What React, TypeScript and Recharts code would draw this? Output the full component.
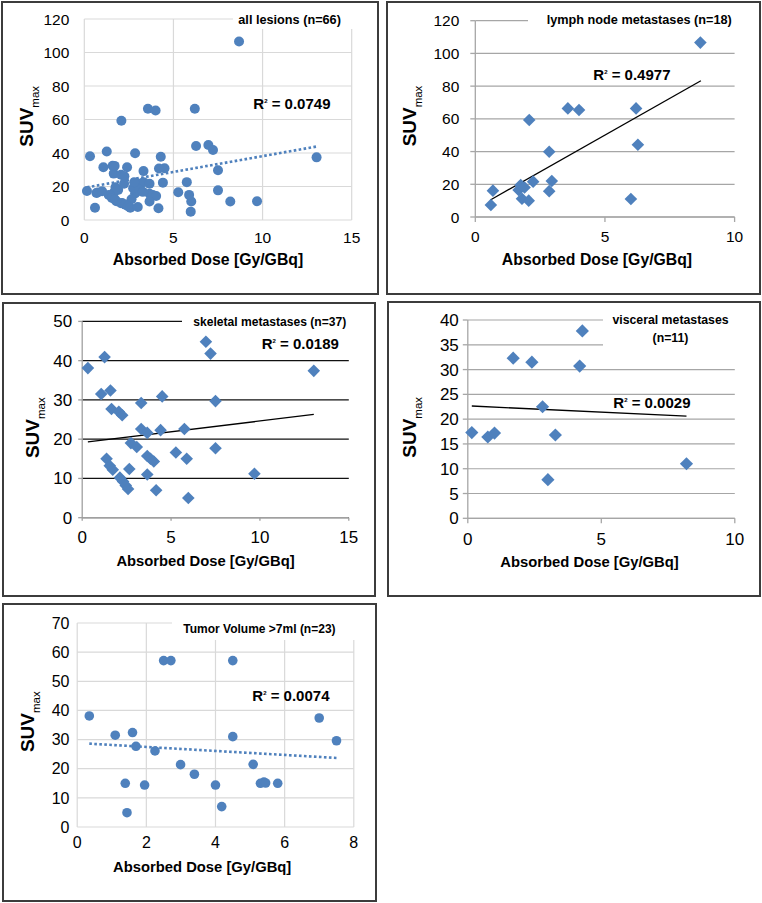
import React from 'react';
import { ScatterChart, Scatter, XAxis, YAxis, CartesianGrid, ReferenceLine, Label } from 'recharts';

const FONT = '"Liberation Sans", Arial, Helvetica, sans-serif';
const BLUE = '#4F81BD';

// ---------- data (Absorbed Dose [Gy/GBq], SUVmax) ----------
const lymphNodeMets: [number, number][] = [
  [0.6, 7.3], [0.68, 16.1], [1.67, 16.5], [1.75, 19.5], [1.9, 18.0], [1.8, 11.2],
  [2.06, 10.0], [2.08, 59.3], [2.23, 21.6], [2.85, 15.8], [2.85, 39.9], [2.95, 22.0],
  [3.57, 66.4], [4.0, 65.4], [6.0, 11.0], [6.2, 66.4], [6.27, 44.2], [8.68, 106.6],
];

const skeletalMets: [number, number][] = [
  [0.32, 38.1], [1.07, 31.5], [1.26, 40.9], [1.59, 32.4], [1.65, 27.7], [2.06, 27.0],
  [2.25, 26.1], [3.32, 29.2], [4.5, 30.9], [6.96, 44.8], [7.22, 41.8], [7.5, 29.7],
  [13.03, 37.4], [3.32, 22.6], [3.66, 21.6], [4.41, 22.3], [5.75, 22.6], [2.74, 19.0],
  [3.07, 18.0], [1.37, 15.0], [1.55, 13.2], [1.72, 12.2], [3.66, 15.7], [3.84, 15.0],
  [4.03, 14.3], [5.27, 16.6], [5.88, 15.0], [7.5, 17.7], [2.65, 12.4], [3.66, 11.0],
  [9.69, 11.2], [2.12, 10.2], [2.3, 9.2], [2.45, 8.2], [2.58, 7.3], [4.16, 7.0], [5.97, 5.0],
];

const visceralMets: [number, number][] = [
  [0.15, 17.3], [0.75, 16.4], [1.0, 17.2], [1.7, 32.3], [2.4, 31.5], [2.8, 22.5],
  [3.0, 7.8], [3.28, 16.8], [4.19, 30.7], [4.29, 37.8], [8.19, 11.0],
];

const tumorVolumeOver7ml: [number, number][] = [
  [0.35, 38.1], [1.1, 31.5], [1.6, 32.4], [1.7, 27.7], [1.39, 15.0], [1.44, 4.9],
  [1.95, 14.4], [2.25, 26.1], [2.5, 57.1], [2.71, 57.1], [2.99, 21.4], [3.39, 18.1],
  [4.0, 14.4], [4.18, 7.0], [4.5, 57.1], [4.5, 31.0], [5.09, 21.5], [5.3, 15.0],
  [5.4, 15.4], [5.45, 15.1], [5.8, 15.0], [7.0, 37.4], [7.5, 29.6],
];

const allLesions: [number, number][] = [...lymphNodeMets, ...skeletalMets, ...visceralMets];

// trendline end points
const trendAll: [number, number][] = [[0.15, 19.5], [13.0, 43.8]];
const trendLymph: [number, number][] = [[0.58, 10.4], [8.7, 83.3]];
const trendSkeletal: [number, number][] = [[0.32, 19.3], [13.03, 26.3]];
const trendVisceral: [number, number][] = [[0.15, 22.65], [8.19, 20.6]];
const trendTumor: [number, number][] = [[0.35, 28.6], [7.5, 23.7]];

// tick labels
const xTicks15 = [0, 5, 10, 15];
const xTicks10 = [0, 5, 10];
const xTicks8 = [0, 2, 4, 6, 8];
const yTicks120 = [0, 20, 40, 60, 80, 100, 120];
const yTicks50 = [0, 10, 20, 30, 40, 50];
const yTicks40 = [0, 5, 10, 15, 20, 25, 30, 35, 40];
const yTicks70 = [0, 10, 20, 30, 40, 50, 60, 70];

// texts
const titles = {
  all: ['all lesions (n=66)'],
  lymph: ['lymph node metastases (n=18)'],
  skeletal: ['skeletal metastases (n=37)'],
  visceral: ['visceral metastases', '(n=11)'],
  tumor: ['Tumor Volume >7ml (n=23)'],
};
const r2 = { all: '0.0749', lymph: '0.4977', skeletal: '0.0189', visceral: '0.0029', tumor: '0.0074' };
const X_TITLE = 'Absorbed Dose [Gy/GBq]';

type Cfg = {
  box: { l: number; t: number; w: number; h: number };
  plot: { l: number; t: number; r: number; b: number };
  data: [number, number][];
  xTicks: number[];
  yTicks: number[];
  shape: 'circle' | 'diamond';
  markSize: number;
  trend: [number, number][];
  dotted: boolean;
  vGrid: boolean;
  gridColor: string;
  axisColor: string | null;
  yTick: { size: number; margin: number };
  xTick: { size: number; margin: number };
  tickFont: number;
  xTitle: { cx: number; cy: number; size: number };
  yTitle: { bx: number; cy: number };
  title: { lines: string[]; x: number; cy: number; size: number; lh: number; center?: boolean };
  mask: { l: number; t: number; r: number; b: number };
  r2: { text: string; x: number; cy: number; size: number };
};

const panels: Cfg[] = [
  {
    box: { l: 1, t: 1, w: 378, h: 294 },
    plot: { l: 84.3, t: 19, r: 351.7, b: 220 },
    data: allLesions, xTicks: xTicks15, yTicks: yTicks120, shape: 'circle', markSize: 5,
    trend: trendAll, dotted: true, vGrid: true, gridColor: '#d9d9d9', axisColor: null,
    yTick: { size: 0, margin: 15 }, xTick: { size: 0, margin: 12 }, tickFont: 15.5,
    xTitle: { cx: 208, cy: 259, size: 15.8 }, yTitle: { bx: 33.3, cy: 116.3 },
    title: { lines: titles.all, x: 238.3, cy: 20, size: 12.7, lh: 17 },
    mask: { l: 233, t: 9, r: 365, b: 29 },
    r2: { text: r2.all, x: 253.3, cy: 103, size: 15 },
  },
  {
    box: { l: 385.7, t: 1, w: 375.3, h: 294 },
    plot: { l: 475, t: 20.7, r: 734.3, b: 217 },
    data: lymphNodeMets, xTicks: xTicks10, yTicks: yTicks120, shape: 'diamond', markSize: 6.3,
    trend: trendLymph, dotted: false, vGrid: false, gridColor: '#a6a6a6', axisColor: '#a6a6a6',
    yTick: { size: 5, margin: 11 }, xTick: { size: 5, margin: 9 }, tickFont: 15.5,
    xTitle: { cx: 596.7, cy: 259.3, size: 15.8 }, yTitle: { bx: 416, cy: 116 },
    title: { lines: titles.lymph, x: 546.7, cy: 20, size: 12.7, lh: 17 },
    mask: { l: 528.3, t: 9, r: 750, b: 31 },
    r2: { text: r2.lymph, x: 593.3, cy: 74, size: 15 },
  },
  {
    box: { l: 1.5, t: 302.3, w: 374, h: 294.4 },
    plot: { l: 81.7, t: 321.7, r: 348.3, b: 518 },
    data: skeletalMets, xTicks: xTicks15, yTicks: yTicks50, shape: 'diamond', markSize: 6.3,
    trend: trendSkeletal, dotted: false, vGrid: false, gridColor: '#111111', axisColor: '#a0a0a0',
    yTick: { size: 4, margin: 6 }, xTick: { size: 3, margin: 10 }, tickFont: 17,
    xTitle: { cx: 205, cy: 561.3, size: 14.8 }, yTitle: { bx: 39, cy: 428 },
    title: { lines: titles.skeletal, x: 193.3, cy: 322.3, size: 12.1, lh: 17 },
    mask: { l: 181.7, t: 313, r: 356, b: 333 },
    r2: { text: r2.skeletal, x: 261.7, cy: 343, size: 15 },
  },
  {
    box: { l: 386.5, t: 300.7, w: 374.5, h: 296 },
    plot: { l: 467.3, t: 319.7, r: 734.3, b: 518 },
    data: visceralMets, xTicks: xTicks10, yTicks: yTicks40, shape: 'diamond', markSize: 6.6,
    trend: trendVisceral, dotted: false, vGrid: false, gridColor: '#a6a6a6', axisColor: '#a6a6a6',
    yTick: { size: 5, margin: 4 }, xTick: { size: 5, margin: 10 }, tickFont: 17,
    xTitle: { cx: 589, cy: 561.3, size: 14.8 }, yTitle: { bx: 416, cy: 427 },
    title: { lines: titles.visceral, x: 670.5, cy: 320.3, size: 12.3, lh: 17.7, center: true },
    mask: { l: 602.7, t: 310, r: 750, b: 350 },
    r2: { text: r2.visceral, x: 613.3, cy: 402, size: 15 },
  },
  {
    box: { l: 1.5, t: 603.3, w: 375.2, h: 298.4 },
    plot: { l: 76.7, t: 623.3, r: 353.3, b: 827.3 },
    data: tumorVolumeOver7ml, xTicks: xTicks8, yTicks: yTicks70, shape: 'circle', markSize: 4.8,
    trend: trendTumor, dotted: true, vGrid: true, gridColor: '#d9d9d9', axisColor: null,
    yTick: { size: 0, margin: 7.7 }, xTick: { size: 0, margin: 10 }, tickFont: 16,
    xTitle: { cx: 201.7, cy: 866.7, size: 14.8 }, yTitle: { bx: 33.3, cy: 722 },
    title: { lines: titles.tumor, x: 183.3, cy: 629, size: 12, lh: 17 },
    mask: { l: 171.7, t: 617, r: 362, b: 640 },
    r2: { text: r2.tumor, x: 252.3, cy: 695, size: 15 },
  },
];

function Panel({ cfg }: { cfg: Cfg }) {
  const { box, plot } = cfg;
  const ox = box.l;
  const oy = box.t;
  const margin = { top: plot.t - oy, right: ox + box.w - plot.r, left: 0, bottom: 0 };
  const yAxisW = plot.l - ox;
  const xAxisH = oy + box.h - plot.b;
  const rows = cfg.data.map(([x, y]) => ({ x, y }));
  const xd: [number, number] = [cfg.xTicks[0], cfg.xTicks[cfg.xTicks.length - 1]];
  const yd: [number, number] = [cfg.yTicks[0], cfg.yTicks[cfg.yTicks.length - 1]];
  const tickStyle = { fontSize: cfg.tickFont, fill: '#000', fontFamily: FONT };
  const axisLine = cfg.axisColor ? { stroke: cfg.axisColor, strokeWidth: 1.3 } : false;
  const tickLine = cfg.axisColor ? { stroke: cfg.axisColor, strokeWidth: 1.3 } : false;
  const m = cfg.markSize;

  const renderShape = (p: any) => {
    const cx = p.cx;
    const cy = p.cy;
    if (cfg.shape === 'circle') return <circle cx={cx} cy={cy} r={m} fill={BLUE} />;
    return <polygon points={`${cx},${cy - m} ${cx + m},${cy} ${cx},${cy + m} ${cx - m},${cy}`} fill={BLUE} />;
  };

  const xTitleSvg = () => (
    <text
      x={cfg.xTitle.cx - ox}
      y={cfg.xTitle.cy - oy + cfg.xTitle.size * 0.36}
      textAnchor="middle"
      fontFamily={FONT}
      fontWeight="bold"
      fontSize={cfg.xTitle.size}
      fill="#000"
    >
      {X_TITLE}
    </text>
  );
  const yTitleSvg = () => {
    const bx = cfg.yTitle.bx - ox;
    const cy = cfg.yTitle.cy - oy;
    return (
      <text
        x={bx}
        y={cy}
        transform={`rotate(-90, ${bx}, ${cy})`}
        textAnchor="middle"
        fontFamily={FONT}
        fill="#000"
      >
        <tspan fontSize={19} fontWeight="bold">SUV</tspan>
        <tspan fontSize={11.5} dy={6}>max</tspan>
      </text>
    );
  };

  return (
    <>
      <div style={{ position: 'absolute', left: ox, top: oy }}>
        <ScatterChart width={box.w} height={box.h} margin={margin}>
          <CartesianGrid horizontal vertical={cfg.vGrid} stroke={cfg.gridColor} strokeWidth={1.2} />
          <XAxis
            type="number"
            dataKey="x"
            domain={xd}
            ticks={cfg.xTicks}
            interval={0}
            height={xAxisH}
            axisLine={axisLine}
            tickLine={tickLine}
            tickSize={cfg.xTick.size}
            tickMargin={cfg.xTick.margin}
            tick={tickStyle}
          >
            <Label value={X_TITLE} content={xTitleSvg} />
          </XAxis>
          <YAxis
            type="number"
            dataKey="y"
            domain={yd}
            ticks={cfg.yTicks}
            interval={0}
            width={yAxisW}
            axisLine={axisLine}
            tickLine={tickLine}
            tickSize={cfg.yTick.size}
            tickMargin={cfg.yTick.margin}
            tick={tickStyle}
          >
            <Label value="SUVmax" content={yTitleSvg} />
          </YAxis>
          <Scatter data={rows} isAnimationActive={false} shape={renderShape} />
          <ReferenceLine
            segment={[
              { x: cfg.trend[0][0], y: cfg.trend[0][1] },
              { x: cfg.trend[1][0], y: cfg.trend[1][1] },
            ]}
            stroke={cfg.dotted ? BLUE : '#000'}
            strokeWidth={cfg.dotted ? 2.6 : 1.3}
            strokeDasharray={cfg.dotted ? '2.6 2.4' : undefined}
            ifOverflow="visible"
          />
        </ScatterChart>
      </div>
      <div
        style={{
          position: 'absolute',
          left: cfg.mask.l,
          top: cfg.mask.t,
          width: cfg.mask.r - cfg.mask.l,
          height: cfg.mask.b - cfg.mask.t,
          background: '#fff',
        }}
      />
      {cfg.title.lines.map((line, i) => (
        <div
          key={i}
          style={{
            position: 'absolute',
            left: cfg.title.x,
            top: cfg.title.cy + i * cfg.title.lh,
            transform: cfg.title.center ? 'translate(-50%, -50%)' : 'translateY(-50%)',
            fontFamily: FONT,
            fontWeight: 'bold',
            fontSize: cfg.title.size,
            lineHeight: 1,
            whiteSpace: 'nowrap',
            color: '#000',
          }}
        >
          {line}
        </div>
      ))}
      <div
        style={{
          position: 'absolute',
          left: cfg.r2.x,
          top: cfg.r2.cy,
          transform: 'translateY(-50%)',
          fontFamily: FONT,
          fontWeight: 'bold',
          fontSize: cfg.r2.size,
          lineHeight: 1,
          whiteSpace: 'nowrap',
          color: '#000',
        }}
      >
        R<span style={{ fontSize: 6, position: 'relative', top: -6 }}>2</span> = {cfg.r2.text}
      </div>
      <div
        style={{
          position: 'absolute',
          left: box.l,
          top: box.t,
          width: box.w,
          height: box.h,
          border: '2px solid #3c3c3c',
          boxSizing: 'border-box',
          pointerEvents: 'none',
        }}
      />
    </>
  );
}

export default function App() {
  return (
    <div style={{ position: 'absolute', left: 0, top: 0, width: 762, height: 903, background: '#fff', overflow: 'hidden' }}>
      {panels.map((p, i) => (
        <Panel key={i} cfg={p} />
      ))}
    </div>
  );
}
